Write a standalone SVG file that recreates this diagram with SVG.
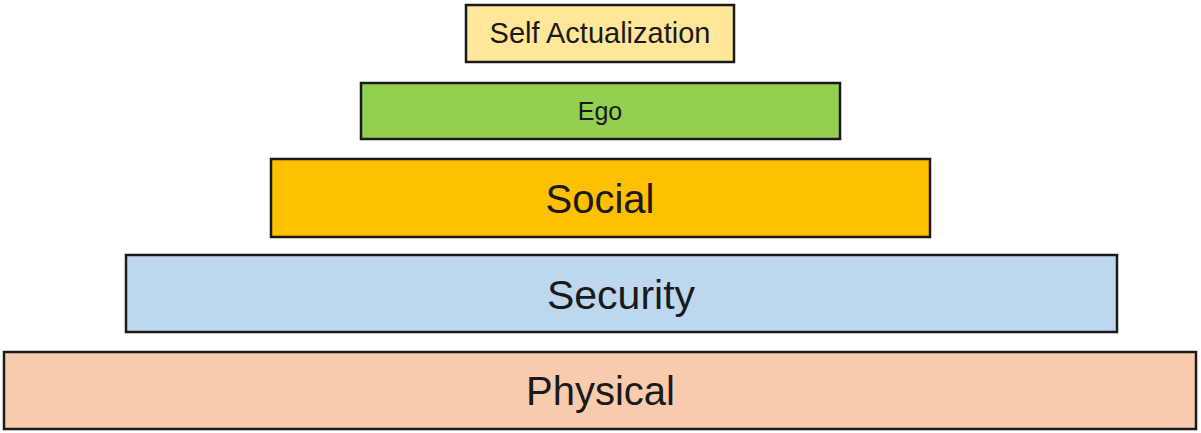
<svg xmlns="http://www.w3.org/2000/svg" width="1201" height="433" viewBox="0 0 1201 433">
<style>
rect{stroke:#1a1a1a;stroke-width:2.5}
text{font-family:"Liberation Sans",Arial,sans-serif;fill:#1a1a1a;text-anchor:middle}
</style>
<rect width="1201" height="433" fill="#fff" style="stroke:none"/>
<g id="self-actualization">
<rect x="466" y="5" width="268" height="57" fill="#FFE699"/>
<text x="600" y="43" font-size="29">Self Actualization</text>
</g>
<g id="ego">
<rect x="361" y="83" width="479" height="56" fill="#92D050"/>
<text x="600" y="120" font-size="25">Ego</text>
</g>
<g id="social">
<rect x="271" y="159" width="659" height="78" fill="#FFC000"/>
<text x="600" y="213" font-size="40">Social</text>
</g>
<g id="security">
<rect x="126" y="255" width="991" height="77" fill="#BDD7EE"/>
<text x="621" y="309" font-size="41">Security</text>
</g>
<g id="physical">
<rect x="4" y="352" width="1192" height="77" fill="#F8CBAD"/>
<text x="600.5" y="405" font-size="40">Physical</text>
</g>
<g id="connectors"/>
</svg>
